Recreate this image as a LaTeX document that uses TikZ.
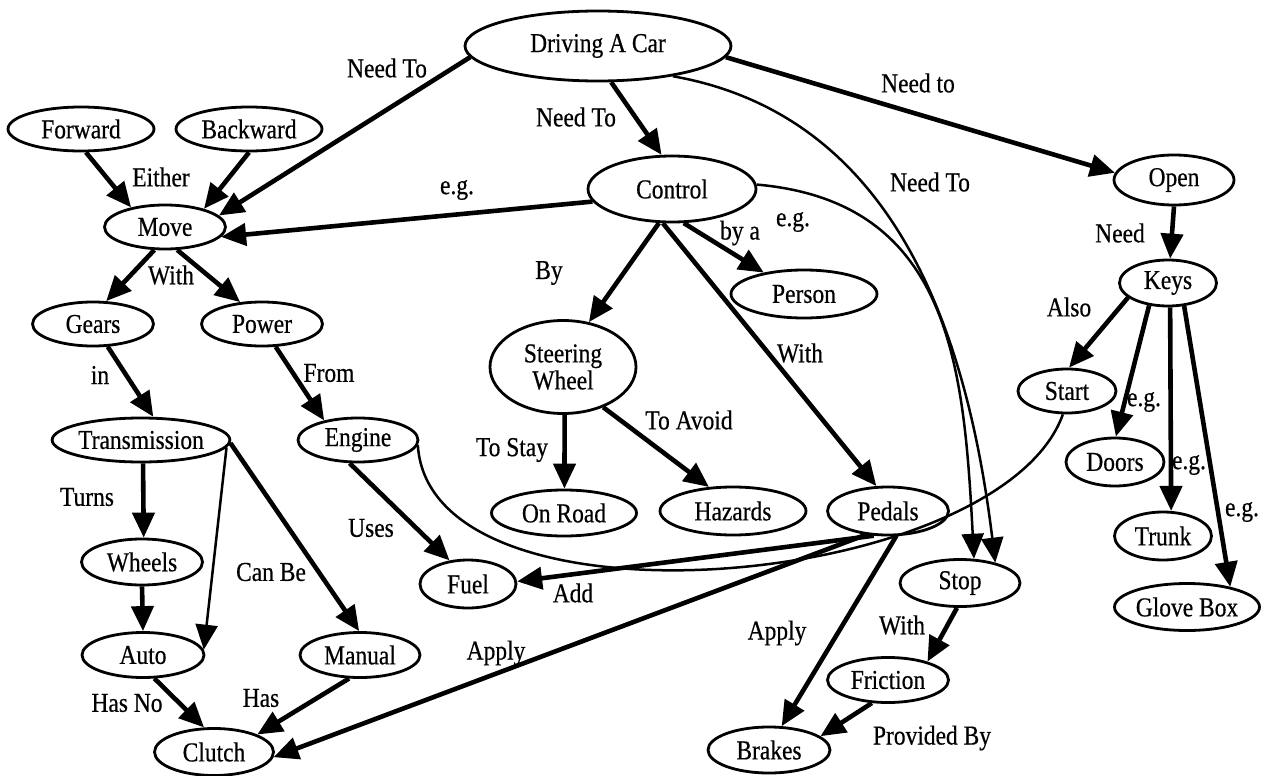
\documentclass[tikz,border=0pt]{standalone}
\usepackage{fontspec}
\setmainfont{Liberation Serif}[FakeStretch=0.86, FakeBold=0.5]
\usetikzlibrary{shapes.geometric, arrows.meta}

\begin{document}
\begin{tikzpicture}[x=1pt, y=-1pt, >={Triangle[length=25pt,width=22pt]},
    concept/.style={ellipse, draw, line width=2.8pt, inner sep=0pt, font=\fontsize{27.3}{27}\selectfont},
    link/.style={->, line width=4.6pt},
    thinlink/.style={->, line width=2.5pt},
    lbl/.style={inner sep=0pt, font=\fontsize{27.3}{27}\selectfont}]
    \useasboundingbox (0,0) rectangle (1264,776);

    % Các khái niệm
    \node[concept, minimum width=266pt, minimum height=70pt] (drive) at (598,46) {Driving A Car};
    \node[concept, minimum width=146pt, minimum height=44pt] (forward) at (81,129) {Forward};
    \node[concept, minimum width=146pt, minimum height=44pt] (backward) at (249,129) {Backward};
    \node[concept, minimum width=121pt, minimum height=44pt] (move) at (165,227) {Move};
    \node[concept, minimum width=168pt, minimum height=66pt] (control) at (672,189) {Control};
    \node[concept, minimum width=120pt, minimum height=50pt] (open) at (1174,180) {Open};
    \node[concept, minimum width=97pt, minimum height=46pt] (keys) at (1168,283) {Keys};
    \node[concept, minimum width=146pt, minimum height=48pt] (person) at (804,294) {Person};
    \node[concept, minimum width=146pt, minimum height=93pt, align=center] (steer) at (563,367) {Steering\\Wheel};
    \node[concept, minimum width=121pt, minimum height=44pt] (gears) at (93,324) {Gears};
    \node[concept, minimum width=121pt, minimum height=44pt] (power) at (262,324) {Power};
    \node[concept, minimum width=98pt, minimum height=44pt] (start) at (1067,391) {Start};
    \node[concept, minimum width=167pt, minimum height=44pt] (trans) at (141,440) {Transmission};
    \node[concept, minimum width=120pt, minimum height=44pt] (engine) at (358,440) {Engine};
    \node[concept, minimum width=98pt, minimum height=48pt] (doors) at (1115,462) {Doors};
    \node[concept, minimum width=121pt, minimum height=46pt] (wheels) at (142,562) {Wheels};
    \node[concept, minimum width=145pt, minimum height=46pt] (onroad) at (564,513) {On Road};
    \node[concept, minimum width=146pt, minimum height=48pt] (hazards) at (733,511) {Hazards};
    \node[concept, minimum width=121pt, minimum height=48pt] (pedals) at (888,511) {Pedals};
    \node[concept, minimum width=97pt, minimum height=48pt] (trunk) at (1163,536) {Trunk};
    \node[concept, minimum width=96pt, minimum height=48pt] (fuel) at (468,584) {Fuel};
    \node[concept, minimum width=120pt, minimum height=47pt] (stop) at (960,583) {Stop};
    \node[concept, minimum width=145pt, minimum height=47pt] (glove) at (1187,607) {Glove Box};
    \node[concept, minimum width=122pt, minimum height=45pt] (auto) at (143,655) {Auto};
    \node[concept, minimum width=120pt, minimum height=45pt] (manual) at (360,655) {Manual};
    \node[concept, minimum width=121pt, minimum height=45pt] (friction) at (888,680) {Friction};
    \node[concept, minimum width=119pt, minimum height=47pt] (clutch) at (214,752) {Clutch};
    \node[concept, minimum width=122pt, minimum height=46pt] (brakes) at (769,750) {Brakes};

    % Driving A Car
    \draw[link] (drive.185) -- (move.12) node[lbl, at={(387,68)}] {Need To};
    \draw[link] (drive.-70) -- (control.107) node[lbl, at={(576,117)}] {Need To};
    \draw[link] (drive.-5) -- (open.173) node[lbl, at={(918,83)}] {Need to};
    \draw[thinlink] (drive.-22) to[out=-10, in=97] (stop.30) node[lbl, at={(930,182)}] {Need To};

    % Control
    \draw[thinlink] (control.3) to[out=-5, in=93, looseness=1.15] (stop.60) node[lbl, at={(793,222)}] {e.g.};
    \draw[link] (control.189) -- (move.-10) node[lbl, at={(457,190)}] {e.g.};
    \draw[link] (control.-71) -- (person.152) node[lbl, at={(740,233)}] {by a};
    \draw[link] (control.-111) -- (steer.60) node[lbl, at={(549,273)}] {By};
    \draw[link] (control.-105) -- (pedals.115) node[lbl, at={(800,353)}] {With};

    % Move
    \draw[link] (forward.-78) -- (move.150) node[lbl, at={(161,177)}] {Either};
    \draw[link] (backward.-90) -- (move.25);
    \draw[link] (move.-115) -- (gears.60) node[lbl, at={(171,275)}] {With};
    \draw[link] (move.-62) -- (power.135);
    \draw[link] (gears.-57) -- (trans.62) node[lbl, at={(100,375)}] {in};
    \draw[link] (power.-59) -- (engine.150) node[lbl, at={(329,373)}] {From};

    % Transmission
    \draw[link] (trans.-85) -- (wheels.86) node[lbl, at={(87,497)}] {Turns};
    \draw[link] (wheels.south) -- (auto.north);
    \draw[thinlink] (trans.-5) -- (auto.5);
    \draw[link] (trans.-2) -- (manual.92) node[lbl, at={(271,572)}] {Can Be};
    \draw[link] (auto.-64) -- (clutch.112) node[lbl, at={(127,703)}] {Has No};
    \draw[link] (manual.-115) -- (clutch.22) node[lbl, at={(261,698)}] {Has};

    % Engine, Pedals
    \draw[link] (engine.-110) -- (fuel.128) node[lbl, at={(371,528)}] {Uses};
    \draw[line width=2.5pt] (engine.-5) .. controls (430,640) and (1000,590) .. (start.-100);
    \draw[link] (pedals.-133) -- (clutch.-5) node[lbl, at={(496,653)}] {Apply};
    \draw[link] (pedals.-120) -- (fuel.3) node[lbl, at={(573,593)}] {Add};
    \draw[link] (pedals.-72) -- (brakes.62) node[lbl, at={(777,633)}] {Apply};

    % Steering Wheel
    \draw[link] (steer.-88) -- (onroad.89) node[lbl, at={(512,450)}] {To Stay};
    \draw[link] (steer.-45) -- (hazards.135) node[lbl, at={(689,420)}] {To Avoid};

    % Stop
    \draw[link] (stop.-97) -- (friction.25) node[lbl, at={(902,625)}] {With};
    \draw[link] (friction.-125) -- (brakes.15) node[lbl, at={(932,738)}] {Provided By};

    % Open, Keys
    \draw[link] (open.south) -- (keys.85) node[lbl, at={(1120,233)}] {Need};
    \draw[link] (keys.-160) -- (start.85) node[lbl, at={(1069,307)}] {Also};
    \draw[link] (keys.-130) -- (doors.88) node[lbl, at={(1144,402)}] {e.g.};
    \draw[link] (keys.-85) -- (trunk.72) node[lbl, at={(1189,465)}] {e.g.};
    \draw[link] (keys.-55) -- (glove.25) node[lbl, at={(1242,512)}] {e.g.};
\end{tikzpicture}
\end{document}
